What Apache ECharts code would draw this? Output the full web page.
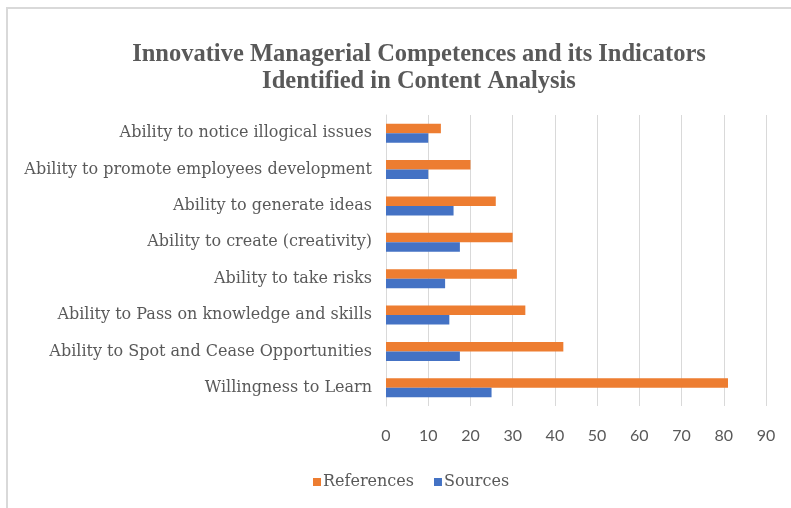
<!DOCTYPE html>
<html>
<head>
<meta charset="utf-8">
<script src="https://cdn.jsdelivr.net/npm/echarts@6/dist/echarts.min.js"></script>
<style>
  html, body { margin: 0; padding: 0; background: #fff; }
  #wrap { position: relative; width: 791px; height: 508px; }
  #frame { position: absolute; left: 6px; top: 7px; right: 0; bottom: 0;
           border-top: 2px solid #d9d9d9; border-left: 2px solid #d9d9d9; }
  #chart { position: absolute; left: 0; top: 0; width: 791px; height: 508px; }
</style>
</head>
<body>
<div id="wrap">
  <div id="frame"></div>
  <div id="chart"></div>
</div>
<script>
// categories listed bottom to top (echarts category y axis starts at the bottom)
var competences = [
  'Willingness to Learn',
  'Ability to Spot and Cease Opportunities',
  'Ability to Pass on knowledge and skills',
  'Ability to take risks',
  'Ability to create (creativity)',
  'Ability to generate ideas',
  'Ability to promote employees development',
  'Ability to notice illogical issues'
];
var references = [81, 42, 33, 31, 30, 26, 20, 13];
var sources = [25, 17.5, 15, 14, 17.5, 16, 10, 10];

var serif = '"DejaVu Serif", "Liberation Serif", serif';
var grey = '#595959';

var chart = echarts.init(document.getElementById('chart'));

chart.setOption({
  animation: false,
  title: {
    text: 'Innovative Managerial Competences and its Indicators\nIdentified in Content Analysis',
    left: 414,
    textAlign: 'center',
    top: 36,
    textStyle: {
      fontFamily: '"Liberation Serif", serif',
      fontSize: 24.5,
      fontWeight: 'bold',
      color: grey,
      lineHeight: 27
    }
  },
  legend: {
    data: ['References', 'Sources'],
    left: 308,
    bottom: 13,
    itemWidth: 8,
    itemHeight: 8,
    itemGap: 20,
    icon: 'rect',
    textStyle: { fontFamily: serif, fontSize: 16, color: grey, padding: [0, 0, 0, -3] }
  },
  grid: {
    left: 386,
    right: 25,
    top: 115,
    bottom: 102
  },
  xAxis: {
    type: 'value',
    min: 0,
    max: 90,
    interval: 10,
    axisLine: { show: false },
    axisTick: { show: false },
    axisLabel: { fontFamily: 'Lato, sans-serif', fontSize: 16, color: grey, margin: 22 },
    splitLine: { lineStyle: { color: '#d9d9d9', width: 1 } }
  },
  yAxis: {
    type: 'category',
    data: competences,
    axisLine: { lineStyle: { color: '#d9d9d9' } },
    axisTick: { show: false },
    axisLabel: { fontFamily: serif, fontSize: 16, color: grey, margin: 14 }
  },
  series: [
    {
      name: 'References',
      type: 'bar',
      data: references,
      itemStyle: { color: '#ED7D31' },
      barGap: '0%',
      barCategoryGap: '48%'
    },
    {
      name: 'Sources',
      type: 'bar',
      data: sources,
      itemStyle: { color: '#4472C4' },
      barGap: '0%',
      barCategoryGap: '48%'
    }
  ]
});
</script>
</body>
</html>
